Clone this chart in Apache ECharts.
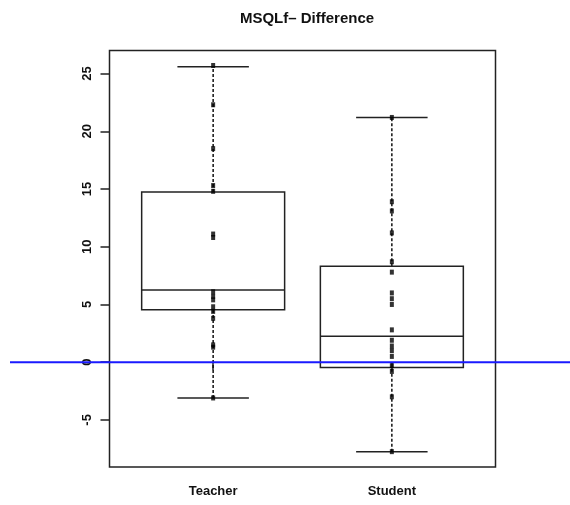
<!DOCTYPE html>
<html><head><meta charset="utf-8">
<script src="https://cdn.jsdelivr.net/npm/echarts@6/dist/echarts.min.js"></script>
<style>html,body{margin:0;padding:0;background:#fff}#c{width:570px;height:505px}</style>
</head><body><div id="c"></div>
<script>
const categories = ['Teacher', 'Student'];
// box stats: [lower whisker, Q1, median, Q3, upper whisker]
const teacherBox = [-3.1, 4.55, 6.25, 14.75, 25.6];
const studentBox = [-7.75, -0.45, 2.25, 8.3, 21.2];
const teacherPoints = [25.7, 22.3, 18.5, 15.3, 14.8, 11.1, 10.8, 6.1, 5.7, 5.4, 4.8, 4.4, 3.8, 1.5, 1.3, -3.1];
const studentPoints = [21.2, 13.9, 13.1, 11.2, 8.7, 7.8, 6.0, 5.5, 5.0, 2.8, 1.9, 1.4, 1.0, 0.5, -0.3, -0.8, -3.0, -7.75];
const yTicks = [-5, 0, 5, 10, 15, 20, 25];
const refLine = 0;

const boxData = [teacherBox, studentBox].map((b, i) => [i + 1].concat(b));
const ptData = [];
teacherPoints.forEach(v => ptData.push([1, v]));
studentPoints.forEach(v => ptData.push([2, v]));

const chart = echarts.init(document.getElementById('c'));
const LC = '#222';
const FF = 'Liberation Sans, Arial, sans-serif';
chart.setOption({
  animation: false,
  title: {
    text: 'MSQLf\u2013 Difference', left: 302, top: 6, textAlign: 'center',
    textStyle: { fontFamily: FF, fontSize: 15, fontWeight: 'bold', color: '#111' }
  },
  grid: { left: 109.5, right: 74.5, top: 50.5, bottom: 38, show: true, borderColor: LC, borderWidth: 1.5, backgroundColor: 'transparent' },
  xAxis: {
    type: 'value', min: 0.42, max: 2.58, interval: 1,
    splitLine: { show: false },
    axisLine: { show: false },
    axisTick: { show: true, length: 8, lineStyle: { color: LC, width: 1.5 }, customValues: [1, 2] },
    axisLabel: {
      customValues: [1, 2], margin: 18,
      formatter: v => categories[Math.round(v) - 1] || '',
      fontFamily: FF, fontSize: 13, fontWeight: 'bold', color: '#111'
    }
  },
  yAxis: {
    type: 'value', min: -9.08, max: 27.0,
    splitLine: { show: false },
    axisLine: { show: false },
    axisTick: { show: true, length: 9, lineStyle: { color: LC, width: 1.5 }, customValues: yTicks },
    axisLabel: {
      customValues: yTicks, rotate: 90, margin: 16,
      fontFamily: FF, fontSize: 13, fontWeight: 'bold', color: '#111'
    }
  },
  series: [
    {
      type: 'custom',
      data: boxData,
      encode: { x: 0, y: [1, 2, 3, 4, 5] },
      renderItem: function (params, api) {
        const x = api.value(0);
        const vals = [1, 2, 3, 4, 5].map(d => api.value(d));
        const c = vals.map(v => api.coord([x, v]));
        const half = api.size([0.4, 0])[0];
        const cap = api.size([0.2, 0])[0];
        const cx = c[0][0];
        const st = { stroke: LC, lineWidth: 1.5, fill: null };
        const dash = { stroke: '#111', lineWidth: 1.5, lineDash: [3, 2], fill: null };
        return {
          type: 'group',
          children: [
            { type: 'line', shape: { x1: cx, y1: c[0][1], x2: cx, y2: c[1][1] }, style: dash },
            { type: 'line', shape: { x1: cx, y1: c[3][1], x2: cx, y2: c[4][1] }, style: dash },
            { type: 'line', shape: { x1: cx - cap, y1: c[0][1], x2: cx + cap, y2: c[0][1] }, style: st },
            { type: 'line', shape: { x1: cx - cap, y1: c[4][1], x2: cx + cap, y2: c[4][1] }, style: st },
            { type: 'rect', shape: { x: cx - half, y: c[3][1], width: 2 * half, height: c[1][1] - c[3][1] }, style: st },
            { type: 'line', shape: { x1: cx - half, y1: c[2][1], x2: cx + half, y2: c[2][1] }, style: st }
          ]
        };
      },
      z: 2
    },
    {
      type: 'scatter',
      data: ptData,
      symbol: 'rect', symbolSize: [4, 5],
      itemStyle: { color: '#000' },
      z: 3
    },
    {
      type: 'custom',
      data: [[1, refLine]],
      clip: false,
      renderItem: function (params, api) {
        const y = api.coord([1, api.value(1)])[1];
        return { type: 'line', shape: { x1: 10, y1: y, x2: 570, y2: y }, style: { stroke: '#1a1aff', lineWidth: 2 } };
      },
      z: 4
    }
  ]
});
</script></body></html>
